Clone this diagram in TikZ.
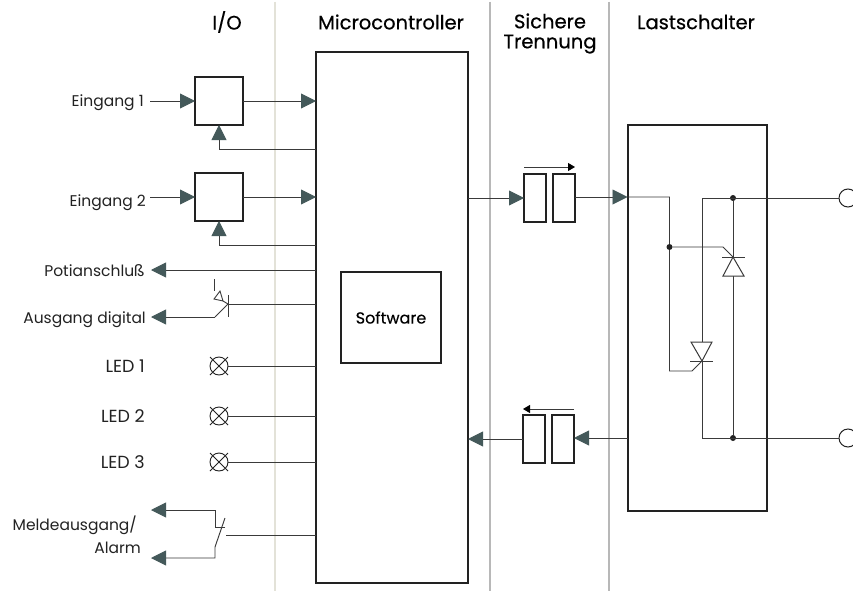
\documentclass[tikz,border=0pt]{standalone}
\usepackage{fontspec}
\setmainfont{Poppins}
\usetikzlibrary{arrows.meta,calc}
\definecolor{headc}{HTML}{44595A}
\definecolor{linec}{HTML}{3A3A3A}
\definecolor{inkc}{HTML}{222222}
\tikzset{
  x=1pt,y=-1pt,
  sep1/.style={draw=#1,line width=1.2pt},
  wire/.style={draw=linec,line width=0.95pt},
  flow/.style={wire,-{Triangle[length=15pt,width=15pt,color=headc,fill=headc]}},
  dirarrow/.style={draw=linec,line width=1pt,-{Triangle[length=7pt,width=8pt,color=black,fill=black]}},
  block/.style={draw=inkc,line width=2pt,fill=white,inner sep=0pt,outer sep=0pt,anchor=north west},
  thinblock/.style={block,line width=1.8pt,minimum width=22pt,minimum height=48pt},
  iobox/.style={block,minimum width=48pt,minimum height=48pt},
  head/.style={text=black,font=\fontsize{19.5}{21}\selectfont\addfontfeature{FakeBold=0.5},inner sep=0pt,align=center},
  lab/.style={text=inkc,font=\fontsize{15.5}{18}\selectfont,inner sep=0pt,anchor=base east},
  ledlab/.style={lab,font=\fontsize{17.5}{20}\selectfont},
  dotj/.style={circle,fill=inkc,draw=none,minimum size=6pt,inner sep=0pt},
  lamp/.style={circle,draw=inkc,line width=0.9pt,minimum size=18pt,inner sep=0pt,outer sep=0pt},
  term/.style={circle,draw=inkc,line width=1pt,minimum size=18pt,inner sep=0pt,outer sep=0pt,fill=white},
}
\begin{document}
\begin{tikzpicture}
\useasboundingbox (0,0) rectangle (853,591);
\clip (0,0) rectangle (853,591);
\fill[white] (0,0) rectangle (853,591);
% separators
\draw[sep1={black!12!yellow!6!white!88!black}] (275,2) -- (275,591);
\draw[sep1=black!28] (490,2) -- (490,591);
\draw[sep1=black!28] (609,2) -- (609,591);
% headers
\node[head] (hio) at (227,22) {I/O};
\node[head] (hmc) at (391,22) {Microcontroller};
\node[head] (hst) at (550,33.5) {Sichere\\[-1pt]Trennung};
\node[head] (hls) at (696,22) {Lastschalter};
% blocks
\node[block,minimum width=152pt,minimum height=531pt] (mc) at (316,52) {};
\node[block,minimum width=100pt,minimum height=91pt,font=\fontsize{16}{18}\selectfont\addfontfeature{FakeBold=0.3}] (sw) at (341,272) {Software};
\node[iobox] (e1) at (195,77) {};
\node[iobox] (e2) at (195,173) {};
\node[block,minimum width=139.5pt,minimum height=386pt] (ls) at (627.5,125) {};
\node[thinblock] (t1a) at (524,174) {};
\node[thinblock] (t1b) at (553,174) {};
\node[thinblock] (t2a) at (523,415) {};
\node[thinblock] (t2b) at (552,415) {};
% input labels
\node[lab] (le1) at (144,106.5) {Eingang 1};
\node[lab] (le2) at (146,206) {Eingang 2};
\node[lab] (lpo) at (145,276) {Potianschluß};
\node[lab] (lad) at (146,323) {Ausgang digital};
\node[ledlab] (ll1) at (145,372) {LED 1};
\node[ledlab] (ll2) at (145,422) {LED 2};
\node[ledlab] (ll3) at (145,468) {LED 3};
\node[lab] (lme) at (137,530) {Meldeausgang/};
\node[lab] (lal) at (141,553) {Alarm};
% Eingang
\coordinate (ie1) at (150,101);
\coordinate (ie2) at (150,197);
\draw[flow] (ie1) -- (e1.west |- ie1);
\draw[flow] (ie2) -- (e2.west |- ie2);
\draw[flow] (e1.east |- ie1) -- (mc.west |- ie1);
\draw[flow] (e2.east |- ie2) -- (mc.west |- ie2);
\coordinate (fb1) at (219,149);
\coordinate (fb2) at (219,245);
\draw[flow] (mc.west |- fb1) -- (fb1) -- (e1.south -| fb1);
\draw[flow] (mc.west |- fb2) -- (fb2) -- (e2.south -| fb2);
% Poti
\coordinate (po) at (151,270);
\draw[flow] (mc.west |- po) -- (po);
% Transistor
\coordinate (tb) at (228,304);
\coordinate (tbt) at (228,295);
\coordinate (tbb) at (228,317);
\coordinate (tk) at (215,317);
\coordinate (ta) at (151,317);
\draw[wire] (mc.west |- tb) -- (tb);
\draw[wire] (tbt) -- (tbb);
\draw[wire] (tb) -- (tk);
\draw[flow] (tk) -- (ta);
\coordinate (tl1) at (214,279);
\coordinate (tl2) at (214,299);
\coordinate (tl3) at (220,291);
\coordinate (tl4) at (223,301);
\draw[draw=linec,line width=0.9pt] (tl1) -- (214,291);
\draw[draw=linec,line width=0.9pt] (tl3) -- (tl2) -- (tl4) -- cycle;
\draw[draw=linec,line width=0.9pt] (tl4) -- (tb);
% LEDs
\foreach \n/\y in {1/366,2/416,3/462}{
  \node[lamp] (led\n) at (219,\y) {};
  \draw[draw=inkc,line width=0.9pt] (210,\y-9) -- (228,\y+9) (210,\y+9) -- (228,\y-9);
  \draw[wire] (led\n.east) -- (mc.west |- led\n.east);
}
% Meldeausgang
\coordinate (m1) at (215,510);
\coordinate (m2) at (215,527);
\coordinate (m3) at (225,527);
\coordinate (m4) at (225,518);
\coordinate (m5) at (215,547);
\coordinate (m6) at (215,558);
\coordinate (ma1) at (151,510);
\coordinate (ma2) at (151,558);
\coordinate (mk) at (226,535);
\draw[flow] (m3) -- (m2) -- (m1) -- (ma1);
\draw[flow] (m4) -- (m5) -- (m6) -- (ma2);
\draw[wire] (mk) -- (mc.west |- mk);
% Trennung
\coordinate (s1) at (0,198);
\coordinate (s2) at (0,197);
\coordinate (s3) at (0,438);
\coordinate (s4) at (0,439);
\draw[flow] (mc.east |- s1) -- (t1a.west |- s1);
\draw[flow] (t1b.east |- s2) -- (ls.west |- s2);
\draw[flow] (ls.west |- s3) -- (t2b.east |- s3);
\draw[flow] (t2a.west |- s4) -- (mc.east |- s4);
\coordinate (d1) at (0,167);
\coordinate (d2) at (0,409);
\draw[dirarrow] (t1a.west |- d1) -- (t1b.east |- d1);
\draw[dirarrow] (t2b.east |- d2) -- (t2a.west |- d2);
% Lastschalter interior
\node[term] (tt) at (848,198) {};
\node[term] (tu) at (848,438) {};
\node[dotj] (j1) at (733,198) {};
\node[dotj] (j2) at (733,438) {};
\node[dotj] (j3) at (669.5,247) {};
\coordinate (c1) at (702,198);
\coordinate (c2) at (702,438);
\coordinate (g1) at (723,247);
\coordinate (ga1) at (733,257);
\coordinate (g2) at (692,371);
\coordinate (ga2) at (702,361);
\coordinate (c3) at (669.5,197);
\coordinate (c4) at (669.5,371);
\draw[wire] (ls.west |- c3) -- (c3) -- (j3) -- (c4) -- (g2) -- (ga2);
\draw[wire] (j3) -- (g1) -- (ga1);
\draw[wire] (tt.west) -- (c1) -- (c2) -- (tu.west);
\draw[wire] (j1) -- (j2);
% thyristors
\draw[wire,fill=white,line width=1pt] (733,257) -- (723,276) -- (744,276) -- cycle;
\draw[wire,line width=1pt] (722,257) -- (745,257);
\draw[wire,fill=white,line width=1pt] (702,361) -- (691,342) -- (712,342) -- cycle;
\draw[wire,line width=1pt] (690,361) -- (713,361);
\end{tikzpicture}
\end{document}
